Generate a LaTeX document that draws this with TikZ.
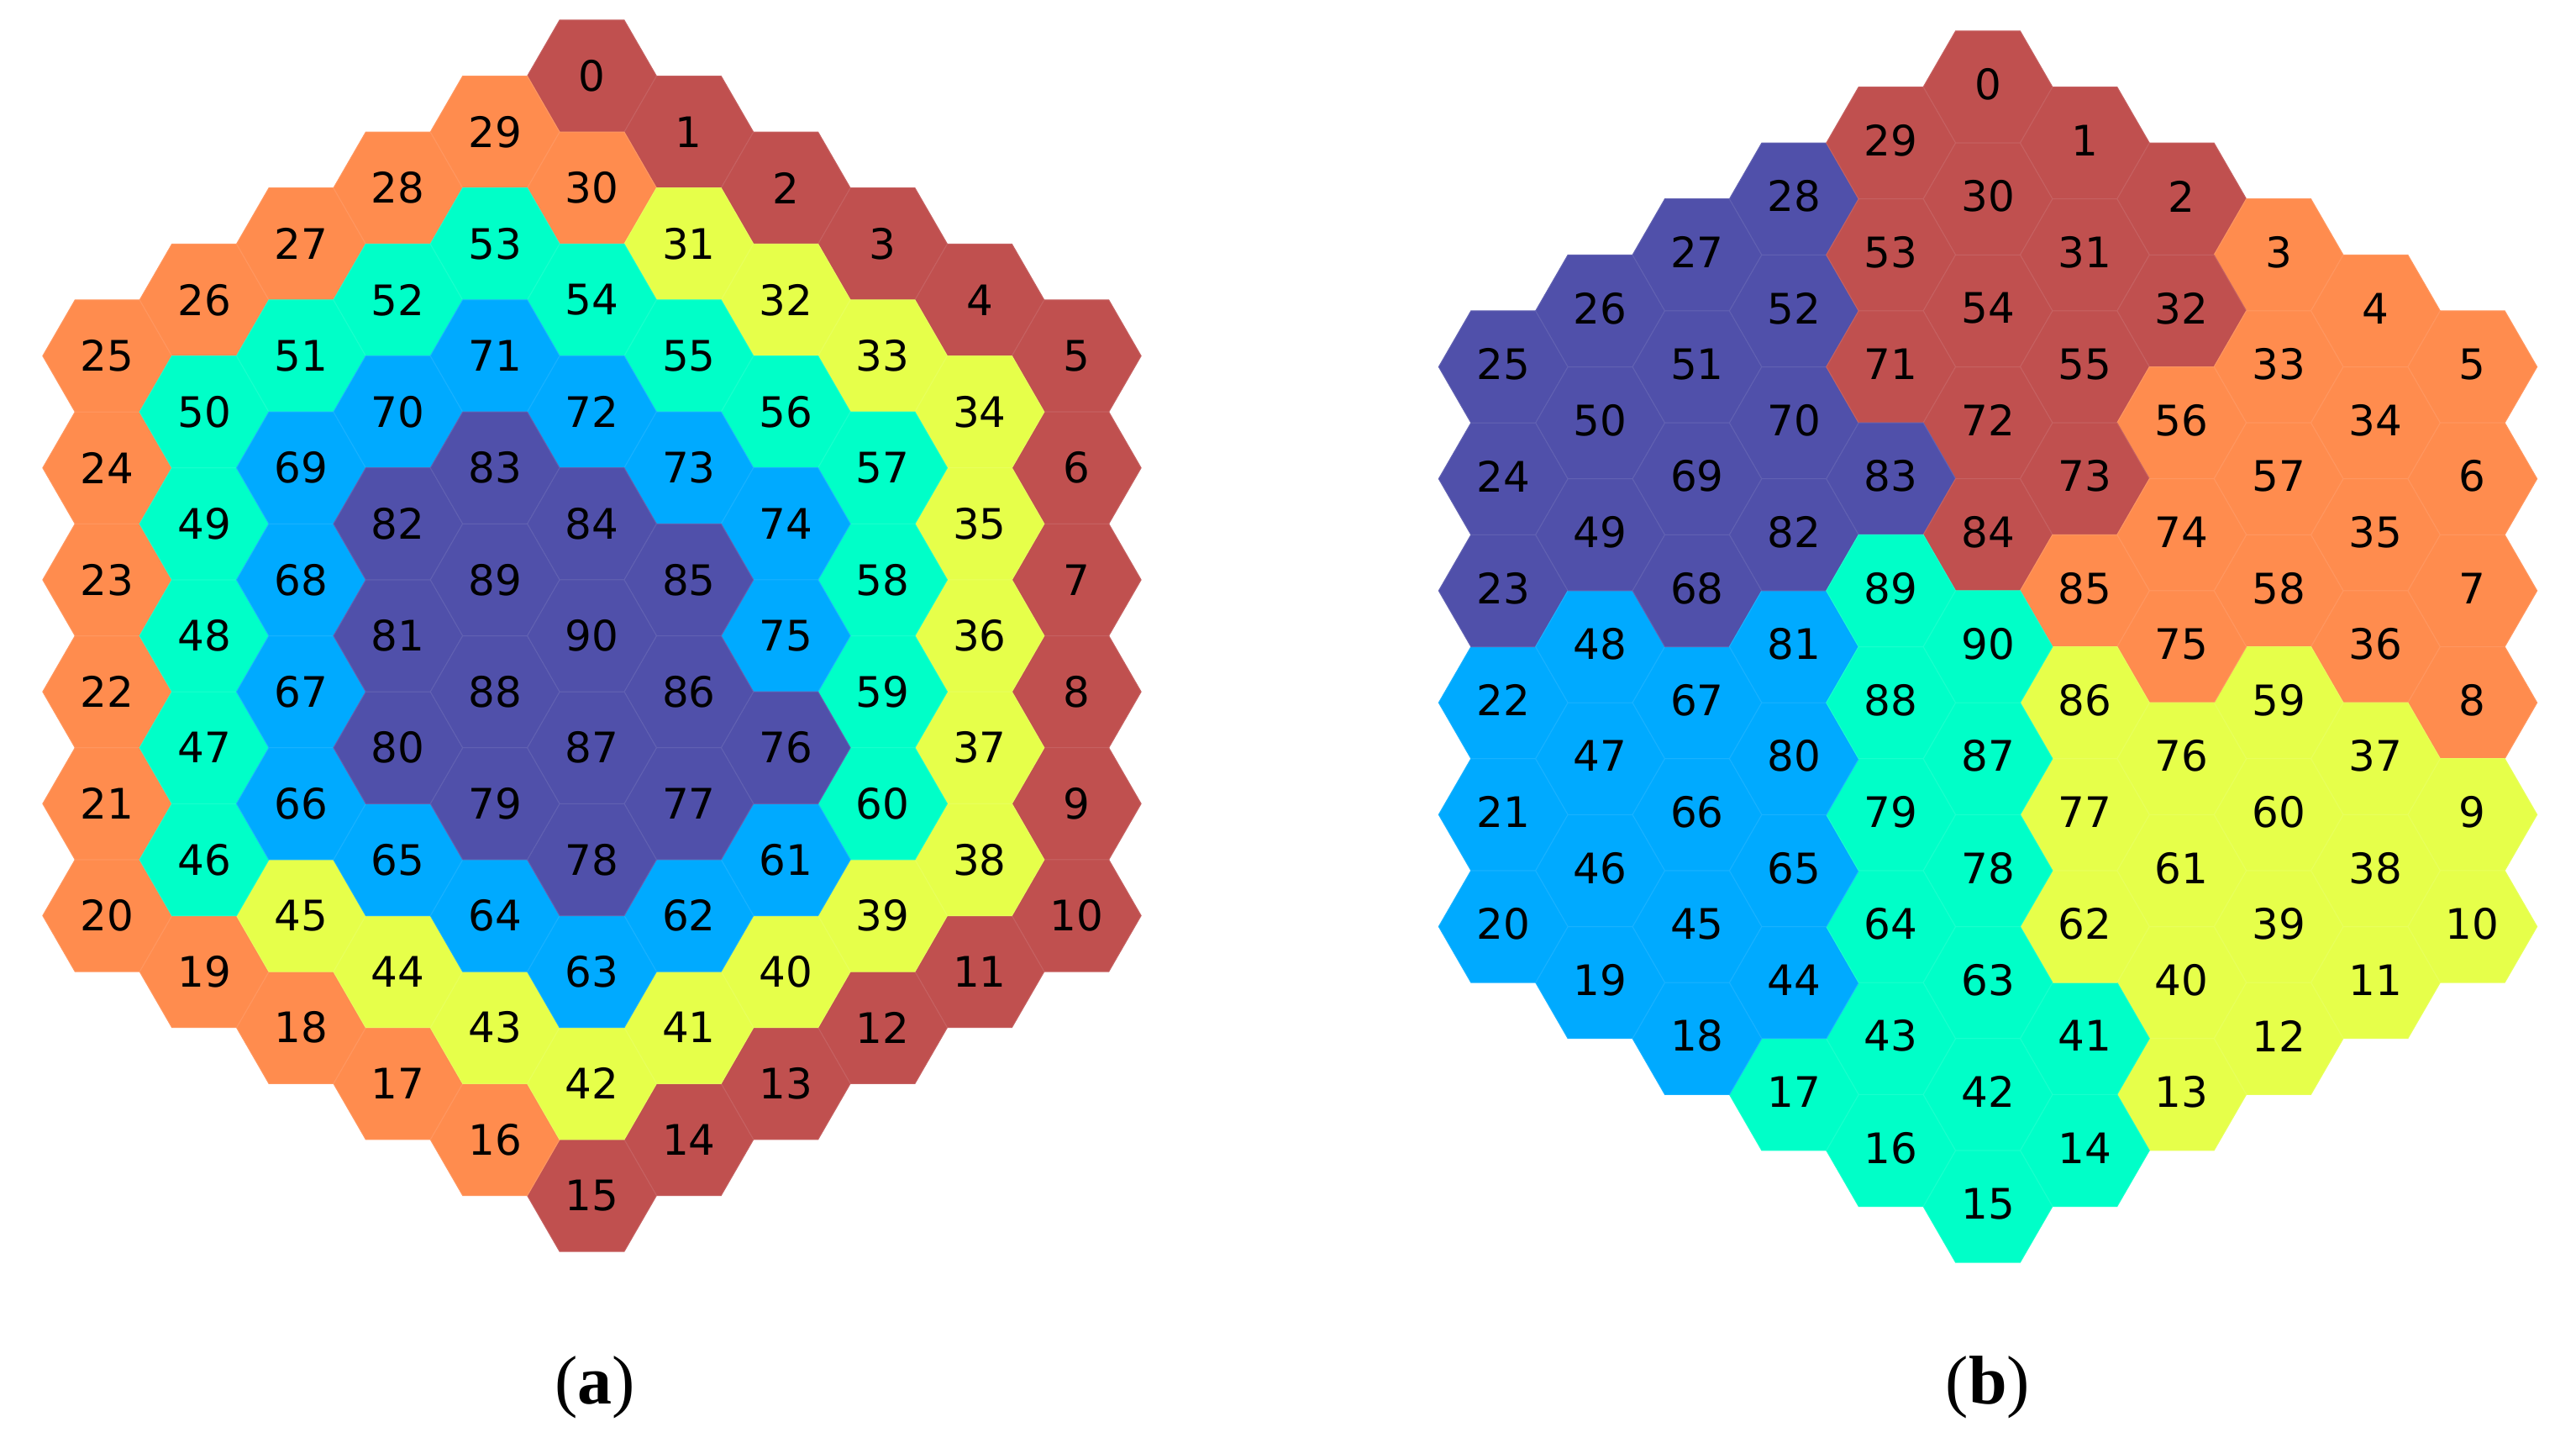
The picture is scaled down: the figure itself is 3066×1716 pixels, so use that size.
\documentclass[tikz,border=0pt]{standalone}
\usepackage{fontspec}
\newfontfamily\numfont{DejaVu Sans}
\newfontfamily\capfont{Liberation Serif}
\definecolor{cR}{HTML}{C0504F}
\definecolor{cO}{HTML}{FF8C4E}
\definecolor{cY}{HTML}{E6FF4A}
\definecolor{cC}{HTML}{00FFC8}
\definecolor{cB}{HTML}{00AAFF}
\definecolor{cP}{HTML}{5050AA}
\begin{document}
\begin{tikzpicture}[x=0.25pt,y=-0.25pt]
\useasboundingbox (0,0) rectangle (3066,1716);
\tikzset{
  hexcell/.style={fill=#1, draw=#1!90!white, line width=0.25pt},
  numlabel/.style={font=\numfont\fontsize{12.5}{15}\selectfont, inner sep=0pt, text=black},
  caplabel/.style={font=\capfont\fontsize{20.5}{24}\selectfont, inner sep=0pt, text=black}
}
\def\R{76.9}
\foreach \n/\c/\r/\A/\B in {
0/0/-10/cR/cR, 1/1/-9/cR/cR, 2/2/-8/cR/cR, 3/3/-7/cR/cO, 4/4/-6/cR/cO,
5/5/-5/cR/cO, 6/5/-3/cR/cO, 7/5/-1/cR/cO, 8/5/1/cR/cO, 9/5/3/cR/cY,
10/5/5/cR/cY, 11/4/6/cR/cY, 12/3/7/cR/cY, 13/2/8/cR/cY, 14/1/9/cR/cC,
15/0/10/cR/cC, 16/-1/9/cO/cC, 17/-2/8/cO/cC, 18/-3/7/cO/cB, 19/-4/6/cO/cB,
20/-5/5/cO/cB, 21/-5/3/cO/cB, 22/-5/1/cO/cB, 23/-5/-1/cO/cP, 24/-5/-3/cO/cP,
25/-5/-5/cO/cP, 26/-4/-6/cO/cP, 27/-3/-7/cO/cP, 28/-2/-8/cO/cP, 29/-1/-9/cO/cR,
30/0/-8/cO/cR, 31/1/-7/cY/cR, 32/2/-6/cY/cR, 33/3/-5/cY/cO, 34/4/-4/cY/cO,
35/4/-2/cY/cO, 36/4/0/cY/cO, 37/4/2/cY/cY, 38/4/4/cY/cY, 39/3/5/cY/cY,
40/2/6/cY/cY, 41/1/7/cY/cC, 42/0/8/cY/cC, 43/-1/7/cY/cC, 44/-2/6/cY/cB,
45/-3/5/cY/cB, 46/-4/4/cC/cB, 47/-4/2/cC/cB, 48/-4/0/cC/cB, 49/-4/-2/cC/cP,
50/-4/-4/cC/cP, 51/-3/-5/cC/cP, 52/-2/-6/cC/cP, 53/-1/-7/cC/cR, 54/0/-6/cC/cR,
55/1/-5/cC/cR, 56/2/-4/cC/cO, 57/3/-3/cC/cO, 58/3/-1/cC/cO, 59/3/1/cC/cY,
60/3/3/cC/cY, 61/2/4/cB/cY, 62/1/5/cB/cY, 63/0/6/cB/cC, 64/-1/5/cB/cC,
65/-2/4/cB/cB, 66/-3/3/cB/cB, 67/-3/1/cB/cB, 68/-3/-1/cB/cP, 69/-3/-3/cB/cP,
70/-2/-4/cB/cP, 71/-1/-5/cB/cR, 72/0/-4/cB/cR, 73/1/-3/cB/cR, 74/2/-2/cB/cO,
75/2/0/cB/cO, 76/2/2/cP/cY, 77/1/3/cP/cY, 78/0/4/cP/cC, 79/-1/3/cP/cC,
80/-2/2/cP/cB, 81/-2/0/cP/cB, 82/-2/-2/cP/cP, 83/-1/-3/cP/cP, 84/0/-2/cP/cR,
85/1/-1/cP/cO, 86/1/1/cP/cY, 87/0/2/cP/cC, 88/-1/1/cP/cC, 89/-1/-1/cP/cC,
90/0/0/cP/cC}{
  \pgfmathsetmacro\xa{704.5+115.35*\c}
  \pgfmathsetmacro\ya{756.5+66.6*\r}
  \pgfmathsetmacro\xb{2366+115.35*\c}
  \pgfmathsetmacro\yb{769.5+66.6*\r}
  \path[hexcell=\A] (\xa,\ya) +(0:\R) -- +(60:\R) -- +(120:\R) -- +(180:\R) -- +(240:\R) -- +(300:\R) -- cycle;
  \path[hexcell=\B] (\xb,\yb) +(0:\R) -- +(60:\R) -- +(120:\R) -- +(180:\R) -- +(240:\R) -- +(300:\R) -- cycle;
  \node[numlabel] (a\n) at (\xa,\ya) {\n};
  \node[numlabel] (b\n) at (\xb,\yb-3) {\n};
}
\node[caplabel] (capa) at (708,1651) {(\textbf{a})};
\node[caplabel] (capb) at (2366,1651) {(\textbf{b})};
\end{tikzpicture}
\end{document}
